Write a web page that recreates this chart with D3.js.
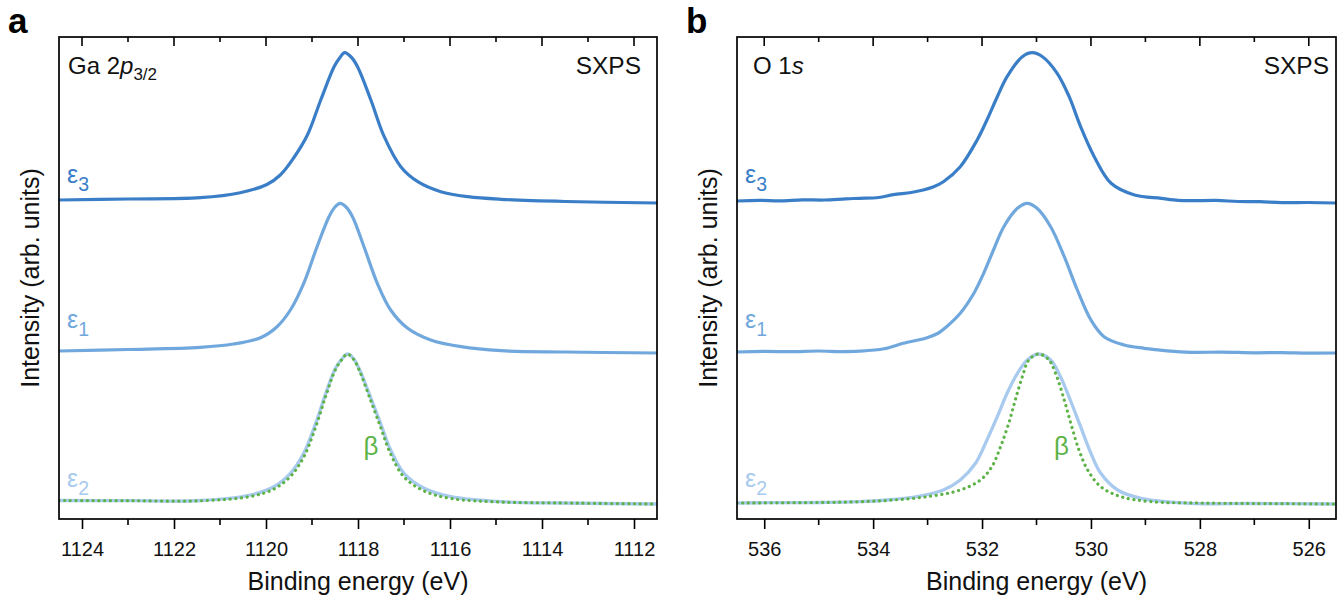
<!DOCTYPE html>
<html><head><meta charset="utf-8">
<script src="https://cdn.jsdelivr.net/npm/d3@7"></script>
<style>
body{margin:0;background:#fff;}
svg text{font-family:"Liberation Sans",Arial,Helvetica,sans-serif;}
</style></head>
<body>
<svg id="chart" width="1340" height="599"></svg>
<script>
// ---------- DATA (intensity in arb. units) ----------
// Panel a: Ga 2p3/2
const gaE3 = [[1124.5,319],[1123.0,320],[1121.43,321.3],[1120.56,326.3],[1119.98,334.5],[1119.69,344],[1119.40,361],[1119.10,384],[1118.81,419],[1118.52,452.3],[1118.40,461],[1118.29,466.3],[1118.15,462],[1118.01,452.3],[1117.72,419],[1117.43,382.3],[1117.07,352.3],[1116.70,337.3],[1116.20,327.3],[1115.61,322.3],[1114.89,319.7],[1113.5,317.5],[1111.5,316]];
const gaE1 = [[1124.5,168],[1123.0,169.5],[1121.43,171.7],[1120.71,175],[1120.12,181.3],[1119.76,192.3],[1119.47,209],[1119.18,235.7],[1118.89,272.3],[1118.63,302.3],[1118.50,312],[1118.39,315.7],[1118.26,312],[1118.12,302.3],[1117.87,272.3],[1117.58,235.7],[1117.29,209],[1116.92,190.7],[1116.42,179],[1115.76,172.3],[1114.89,168.3],[1113.5,167],[1111.5,166]];
const gaE2 = [[1124.5,18.5],[1123.0,18.3],[1121.43,18.5],[1120.34,24],[1119.83,32.3],[1119.47,45.7],[1119.18,65.7],[1118.92,95.7],[1118.70,125.7],[1118.49,150.7],[1118.35,160],[1118.23,165],[1118.10,160.5],[1117.98,150.7],[1117.76,125.7],[1117.51,95.7],[1117.29,69],[1117.00,45.7],[1116.56,30.7],[1115.98,22.3],[1114.89,17.3],[1113.5,16],[1111.5,15]];
const gaBeta = [[1124.5,18.5],[1123.0,18.3],[1121.43,18.2],[1120.34,22.5],[1119.83,30],[1119.47,42.5],[1119.18,62],[1118.92,92],[1118.70,123],[1118.49,149.5],[1118.35,159.5],[1118.23,165],[1118.10,160],[1117.98,149.5],[1117.76,123],[1117.51,92],[1117.29,65],[1117.00,42],[1116.56,28],[1115.98,20.5],[1114.89,17],[1113.5,16],[1111.5,15]];
// Panel b: O 1s
const oE3 = [[536.5,318],[536.1,318.6],[535.7,318.2],[535.3,319.2],[534.9,319],[534.5,320.2],[534.25,320.7],[533.9,321.5],[533.63,324.3],[533.3,326.5],[533.08,329],[532.9,332],[532.71,337.3],[532.40,352.3],[532.09,379],[531.91,399],[531.72,422.3],[531.54,442.3],[531.26,462.3],[531.08,466.3],[530.89,462.3],[530.62,445.7],[530.40,422.3],[530.19,392.3],[529.94,362.3],[529.63,335.7],[529.20,324],[528.71,320.7],[528.4,318.7],[528.16,318.3],[527.7,318.6],[527.3,317.5],[526.9,317.3],[526.5,316.4],[526.0,316.5],[525.5,316]];
const oE1 = [[536.5,167],[536.0,167.6],[535.5,167.3],[535.0,168],[534.6,167.4],[534.25,167.8],[533.8,170.2],[533.45,175.7],[533.01,181.3],[532.8,186],[532.65,192.3],[532.40,205.7],[532.15,225.7],[531.97,245.7],[531.79,269],[531.60,292.3],[531.35,310.7],[531.17,315.7],[530.99,310.7],[530.74,292.3],[530.49,262.3],[530.25,229],[530.00,199],[529.76,182.3],[529.39,174],[529.02,170.7],[528.6,168.2],[528.16,166.7],[527.6,166.9],[527.0,166.2],[526.5,166.4],[526.0,165.9],[525.5,166]];
const oE2 = [[536.5,16],[535.8,16.4],[535.0,16.5],[534.25,17.3],[533.75,19],[533.14,23],[532.71,29],[532.40,39],[532.12,55.7],[531.91,79],[531.72,102.3],[531.54,125.7],[531.35,145.7],[531.17,159],[530.97,165],[530.74,159],[530.56,142.3],[530.38,119],[530.19,92.3],[530.00,65.7],[529.82,45.7],[529.51,29],[529.08,20.7],[528.16,15.7],[527.0,15.5],[525.5,15]];
const oBeta = [[536.5,16],[535.0,16.5],[534.25,17.3],[533.63,19],[533.01,22.3],[532.40,29],[532.03,39],[531.82,52.3],[531.66,72.3],[531.51,95.7],[531.39,119],[531.26,142.3],[531.14,159],[530.96,165],[530.77,159],[530.65,145.7],[530.49,119],[530.37,95.7],[530.22,69],[530.06,49],[529.82,32.3],[529.45,22.3],[528.89,17.3],[528.0,16],[527.0,15.5],[525.5,15]];

const gaTicks = [1124,1122,1120,1118,1116,1114,1112];
const oTicks = [536,534,532,530,528,526];
const colors = {e3:"#3a7ec7", e1:"#70a8dd", e2:"#a8caee", beta:"#5db347"};

// ---------- DRAW ----------
const svg = d3.select("#chart");
const plotTop = 37, plotBottom = 519;
const y = d3.scaleLinear().domain([0, 482]).range([plotBottom, plotTop]);

function panel(opt){
  const x = d3.scaleLinear().domain(opt.domain).range([opt.x0, opt.x1]);
  const g = svg.append("g");
  const line = d3.line().x(d=>x(d[0])).y(d=>y(d[1])).curve(d3.curveCatmullRom.alpha(0.5));
  const clipId = "clip"+opt.id;
  svg.append("clipPath").attr("id",clipId).append("rect")
     .attr("x",opt.x0).attr("y",plotTop).attr("width",opt.x1-opt.x0).attr("height",plotBottom-plotTop);
  const pg = g.append("g").attr("clip-path",`url(#${clipId})`);
  pg.append("path").datum(opt.e2).attr("d",line).attr("fill","none").attr("stroke",colors.e2).attr("stroke-width",3.3);
  pg.append("path").datum(opt.beta).attr("d",line).attr("fill","none").attr("stroke",colors.beta).attr("stroke-width",3.2)
    .attr("stroke-dasharray","0.1 5.6").attr("stroke-linecap","round");
  pg.append("path").datum(opt.e1).attr("d",line).attr("fill","none").attr("stroke",colors.e1).attr("stroke-width",3.2);
  pg.append("path").datum(opt.e3).attr("d",line).attr("fill","none").attr("stroke",colors.e3).attr("stroke-width",3.2);

  const lo = Math.min(...opt.domain), hi = Math.max(...opt.domain);
  const minor = d3.range(Math.ceil(lo), Math.floor(hi)+1).filter(v=>!opt.ticks.includes(v));
  // bottom axis
  const axB = d3.axisBottom(x).tickValues(opt.ticks).tickSize(10).tickSizeOuter(0).tickFormat(d3.format("d"));
  const gb = g.append("g").attr("transform",`translate(0,${plotBottom})`).call(axB);
  gb.select(".domain").remove();
  gb.selectAll(".tick line").attr("stroke","#000").attr("stroke-width",1.6);
  gb.selectAll(".tick text").attr("font-size",20).attr("fill","#111").attr("y",23).attr("dy","0.71em")
    .attr("font-family","Liberation Sans, Arial, sans-serif");
  gb.selectAll(".mt").data(minor).enter().append("line").attr("class","mt")
    .attr("x1",d=>x(d)).attr("x2",d=>x(d)).attr("y1",0).attr("y2",6).attr("stroke","#000").attr("stroke-width",1.6);
  // top ticks (inward)
  const gt = g.append("g").attr("transform",`translate(0,${plotTop})`);
  gt.selectAll(".Mt").data(opt.ticks).enter().append("line").attr("class","Mt")
    .attr("x1",d=>x(d)).attr("x2",d=>x(d)).attr("y1",0).attr("y2",9).attr("stroke","#000").attr("stroke-width",1.6);
  gt.selectAll(".mt").data(minor).enter().append("line").attr("class","mt")
    .attr("x1",d=>x(d)).attr("x2",d=>x(d)).attr("y1",0).attr("y2",5).attr("stroke","#000").attr("stroke-width",1.6);
  // frame
  g.append("rect").attr("x",opt.x0).attr("y",plotTop).attr("width",opt.x1-opt.x0).attr("height",plotBottom-plotTop)
    .attr("fill","none").attr("stroke","#000").attr("stroke-width",1.7);

  // axis titles
  g.append("text").attr("x",(opt.x0+opt.x1)/2).attr("y",590).attr("text-anchor","middle")
    .attr("font-size",25).attr("fill","#111").text("Binding energy (eV)");
  g.append("text").attr("transform",`translate(${opt.x0-20},${(plotTop+plotBottom)/2}) rotate(-90)`).attr("text-anchor","middle")
    .attr("font-size",25).attr("fill","#111").text("Intensity (arb. units)");

  // panel letter
  g.append("text").attr("x",opt.x0-51).attr("y",33).attr("font-size",35).attr("font-weight","bold").attr("fill","#000").text(opt.letter);

  // core level title
  const t = g.append("text").attr("x",opt.x0+opt.titleDx).attr("y",74).attr("font-size",24).attr("fill","#111");
  opt.title(t);
  g.append("text").attr("x",opt.x1-opt.sxpsDx).attr("y",74).attr("text-anchor","end").attr("font-size",24.5).attr("fill","#111").text("SXPS");

  // series labels
  const lab = (txt, sub, yy, col) => {
    const tt = g.append("text").attr("x",opt.x0+8).attr("y",yy).attr("font-size",25).attr("fill",col);
    tt.append("tspan").text(txt);
    tt.append("tspan").attr("dy",7.5).attr("font-size",19.5).text(sub);
  };
  lab("ε","3",183,colors.e3);
  lab("ε","1",328,colors.e1);
  lab("ε","2",487,colors.e2);
  g.append("text").attr("x",x(opt.betaX)).attr("y",455).attr("font-size",26).attr("fill",colors.beta)
    .attr("font-family","Liberation Serif, Times New Roman, serif").text("β");
}

panel({id:"a", letter:"a", domain:[1124.5,1111.5], x0:59, x1:657, ticks:gaTicks,
  e3:gaE3, e1:gaE1, e2:gaE2, beta:gaBeta, betaX:1117.88, titleDx:9, sxpsDx:16,
  title:t=>{t.append("tspan").text("Ga 2");t.append("tspan").attr("font-style","italic").text("p");
    t.append("tspan").attr("dy",6).attr("font-size",17).text("3/2");}});
panel({id:"b", letter:"b", domain:[536.5,525.5], x0:737, x1:1336, ticks:oTicks,
  e3:oE3, e1:oE1, e2:oE2, beta:oBeta, betaX:530.68, titleDx:16, sxpsDx:7,
  title:t=>{t.append("tspan").text("O 1");t.append("tspan").attr("font-style","italic").text("s");}});
</script>
</body></html>
